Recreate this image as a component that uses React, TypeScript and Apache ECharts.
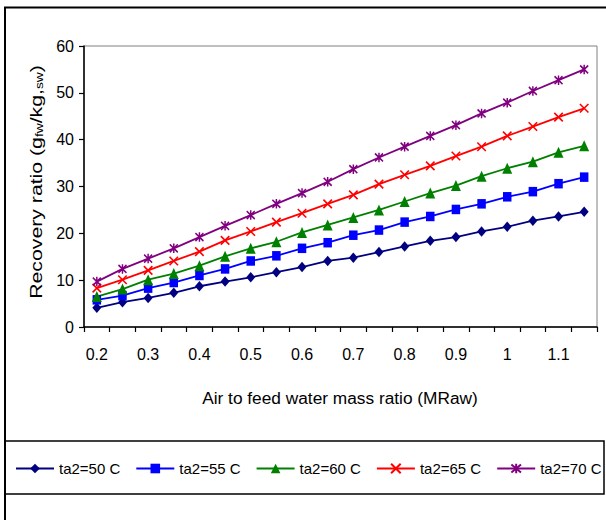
import React, { useEffect, useRef } from "react";
import * as echarts from "echarts";

const categories = ["0.2", "0.25", "0.3", "0.35", "0.4", "0.45", "0.5", "0.55", "0.6", "0.65", "0.7", "0.75", "0.8", "0.85", "0.9", "0.95", "1", "1.05", "1.1", "1.15"];
const ta50 = [4.1, 5.3, 6.2, 7.3, 8.7, 9.7, 10.6, 11.7, 12.8, 14.1, 14.8, 16.0, 17.2, 18.4, 19.2, 20.4, 21.4, 22.7, 23.6, 24.6];
const ta55 = [5.8, 6.7, 8.3, 9.5, 11.0, 12.4, 14.1, 15.2, 16.8, 18.0, 19.6, 20.7, 22.4, 23.6, 25.1, 26.3, 27.8, 28.9, 30.6, 32.0];
const ta60 = [6.5, 8.1, 10.1, 11.4, 13.1, 15.1, 16.8, 18.2, 20.2, 21.8, 23.4, 25.0, 26.8, 28.6, 30.2, 32.2, 33.9, 35.3, 37.3, 38.7];
const ta65 = [8.3, 10.1, 12.1, 14.1, 16.1, 18.5, 20.4, 22.4, 24.3, 26.3, 28.2, 30.5, 32.5, 34.4, 36.5, 38.5, 40.8, 42.8, 44.8, 46.7];
const ta70 = [9.7, 12.4, 14.6, 16.8, 19.2, 21.6, 23.9, 26.3, 28.6, 31.0, 33.7, 36.2, 38.5, 40.8, 43.1, 45.6, 47.9, 50.4, 52.7, 55.0];
const seriesNames = ["ta2=50 C", "ta2=55 C", "ta2=60 C", "ta2=65 C", "ta2=70 C"];
const yTitle = "Recovery ratio (g{s|fw}/kg,{s|sw})";
const xTitle = "Air to feed water mass ratio (MRaw)";

const FONT = "Liberation Sans, Arial, sans-serif";
const X_PATH = "path://M0 0 L10 10 M10 0 L0 10";
const STAR_PATH = "path://M0 0 L10 10 M10 0 L0 10 M5 -1 L5 11";

export default function App() {
  const ref = useRef<HTMLDivElement>(null);
  useEffect(() => {
    if (!ref.current) return;
    const chart = echarts.init(ref.current, null, { renderer: "svg" });
    const mk = (name: string, data: number[], color: string, symbol: string, size: any, stroke?: boolean) => ({
      name,
      type: "line",
      data,
      symbol,
      symbolSize: size,
      showSymbol: true,
      lineStyle: { color, width: 1.8 },
      itemStyle: stroke
        ? { color, borderColor: color, borderWidth: 1.6 }
        : { color, borderWidth: 0 },
      emphasis: { disabled: true },
    });
    chart.setOption({
      animation: false,
      backgroundColor: "#ffffff",
      textStyle: { fontFamily: FONT },
      grid: {
        left: 84,
        right: 9,
        top: 46,
        bottom: 193,
        show: true,
        borderColor: "#808080",
        borderWidth: 1,
        backgroundColor: "transparent",
      },
      xAxis: {
        type: "category",
        data: categories,
        boundaryGap: true,
        axisLine: { lineStyle: { color: "#000", width: 1.5 } },
        axisTick: { show: true, interval: 0, length: 5, inside: false, lineStyle: { color: "#000", width: 1.2 } },
        axisLabel: { interval: 1, margin: 19, fontSize: 16, color: "#000", fontFamily: FONT },
        splitLine: { show: false },
      },
      yAxis: {
        type: "value",
        min: 0,
        max: 60,
        interval: 10,
        axisLine: { show: true, lineStyle: { color: "#000", width: 1.5 } },
        axisTick: { show: true, length: 5, lineStyle: { color: "#000", width: 1.2 } },
        axisLabel: { margin: 10, fontSize: 16, color: "#000", fontFamily: FONT },
        splitLine: { show: false },
      },
      legend: {
        data: seriesNames,
        left: 15,
        top: 461,
        padding: 0,
        itemWidth: 38,
        itemHeight: 12,
        itemGap: 15,
        textStyle: { fontSize: 15, color: "#000", fontFamily: FONT },
        selectedMode: false,
      },
      series: [
        mk(seriesNames[0], ta50, "#000080", "diamond", [9, 10.5]),
        mk(seriesNames[1], ta55, "#0000FF", "rect", [8.5, 9.5]),
        mk(seriesNames[2], ta60, "#008000", "triangle", [10, 11]),
        mk(seriesNames[3], ta65, "#FF0000", X_PATH, [8.5, 8.5], true),
        mk(seriesNames[4], ta70, "#800080", STAR_PATH, [8, 9.5], true),
      ],
      graphic: [
        {
          type: "rect",
          shape: { x: 5, y: 7.5, width: 700, height: 700 },
          style: { fill: "none", stroke: "#000", lineWidth: 2 },
          silent: true,
        },
        {
          type: "rect",
          shape: { x: 5, y: 441, width: 599, height: 53 },
          style: { fill: "none", stroke: "#000", lineWidth: 1.5 },
          silent: true,
        },
        {
          type: "text",
          x: 36,
          y: 182,
          rotation: Math.PI / 2,
          scaleX: 1.25,
          style: {
            text: yTitle,
            fontSize: 17,
            fontFamily: FONT,
            fill: "#000",
            align: "center",
            verticalAlign: "middle",
            rich: { s: { fontSize: 11, fontFamily: FONT, fill: "#000", verticalAlign: "bottom" } },
          },
          silent: true,
        },
        {
          type: "text",
          x: 340,
          y: 398,
          style: {
            text: xTitle,
            fontSize: 17.3,
            fontFamily: FONT,
            fill: "#000",
            align: "center",
            verticalAlign: "middle",
          },
          silent: true,
        },
      ],
    });
    return () => chart.dispose();
  }, []);
  return (
    <div
      ref={ref}
      style={{ position: "fixed", left: 0, top: 0, width: 606, height: 520, background: "#fff" }}
    />
  );
}
